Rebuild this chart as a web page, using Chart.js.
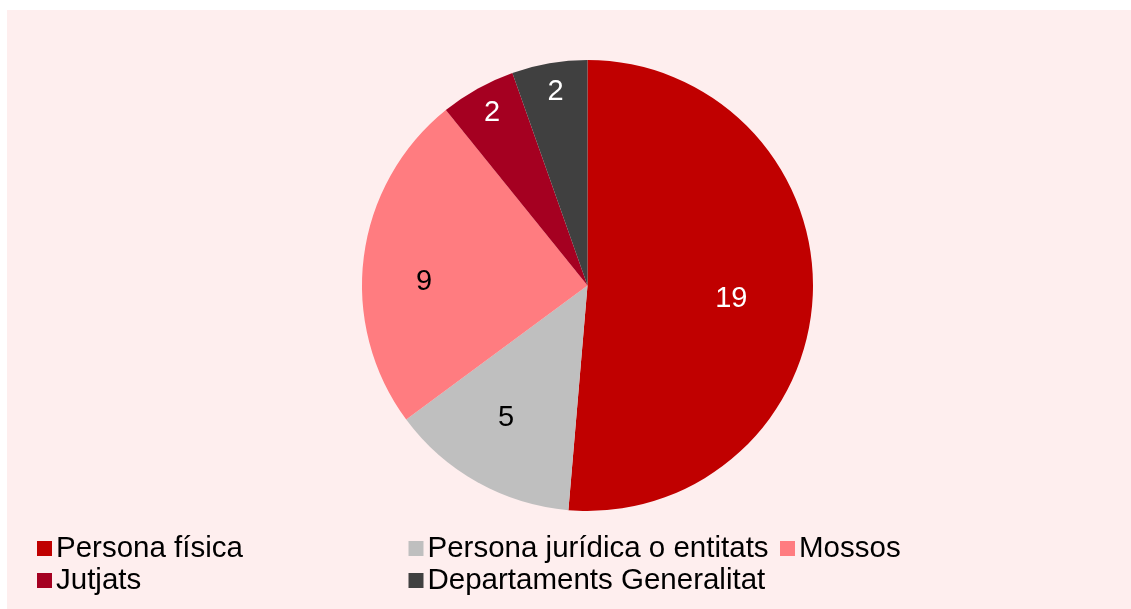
<!DOCTYPE html>
<html>
<head>
<meta charset="utf-8">
<script src="https://cdn.jsdelivr.net/npm/chart.js@4"></script>
<style>
  body { margin: 0; background: #ffffff; }
  #wrap { width: 1131px; height: 609px; }
</style>
</head>
<body>
<div id="wrap"><canvas id="myChart-pie" width="1131" height="609"></canvas></div>
<script>
/*               pie chart: origen de les queixes                           */

const categories = ['Persona física', 'Persona jurídica o entitats', 'Mossos', 'Jutjats', 'Departaments Generalitat'];
const values = [19, 5, 9, 2, 2];
const sliceColors = ['#C00000', '#BFBFBF', '#FF7C80', '#A50021', '#404040'];
const labelColors = ['#ffffff', '#000000', '#000000', '#ffffff', '#ffffff'];

const FONT = '"Liberation Sans", Arial, sans-serif';

// pink panel behind everything
const panelBg = {
    id: 'panelBg',
    beforeDraw(chart) {
        const c = chart.ctx;
        c.save();
        c.fillStyle = '#FEEEEE';
        c.fillRect(7, 10, chart.width - 7, chart.height - 10);
        c.restore();
    }
};

// value labels inside the slices
const sliceLabels = {
    id: 'sliceLabels',
    afterDatasetsDraw(chart, args, opts) {
        const c = chart.ctx;
        const meta = chart.getDatasetMeta(0);
        c.save();
        c.font = '29px ' + FONT;
        c.textAlign = 'center';
        c.textBaseline = 'middle';
        meta.data.forEach((arc, i) => {
            const p = arc.getProps(['x', 'y', 'startAngle', 'endAngle', 'outerRadius'], true);
            const a = (p.startAngle + p.endAngle) / 2 + opts.shift[i] * Math.PI / 180;
            const r = p.outerRadius * opts.dist[i];
            c.fillStyle = labelColors[i];
            c.fillText(String(values[i]), p.x + Math.cos(a) * r, p.y + Math.sin(a) * r + 1);
        });
        c.restore();
    }
};

// legend laid out in fixed columns like the original
const gridLegend = {
    id: 'gridLegend',
    afterDraw(chart, args, opts) {
        const c = chart.ctx;
        c.save();
        c.font = '29.5px ' + FONT;
        c.textAlign = 'left';
        c.textBaseline = 'alphabetic';
        categories.forEach((name, i) => {
            const col = i % opts.columns;
            const row = Math.floor(i / opts.columns);
            const x = opts.left + col * opts.colWidth;
            const base = opts.top + row * opts.rowHeight;
            c.fillStyle = sliceColors[i];
            c.fillRect(x, base - 16, 15, 15);
            c.fillStyle = '#000000';
            c.fillText(name, x + 19, base);
        });
        c.restore();
    }
};

let ctx0 = document.getElementById('myChart-pie').getContext('2d');
var chart = new Chart(ctx0, {
    type: 'pie',
    data: {
        labels: categories,
        datasets: [{
            data: values,
            backgroundColor: sliceColors,
            borderWidth: 0
        }]
    },
    options: {
        responsive: false,
        animation: false,
        layout: {
            padding: { left: 362, right: 318, top: 60, bottom: 98 }
        },
        plugins: {
            legend: { display: false },
            tooltip: { enabled: false },
            sliceLabels: {
                dist: [0.64, 0.686, 0.725, 0.879, 0.875],
                shift: [2.6, 2.6, -5.7, 0.4, 0.4]
            },
            gridLegend: {
                columns: 3,
                left: 37,
                colWidth: 371.5,
                top: 557,
                rowHeight: 32
            }
        }
    },
    plugins: [panelBg, sliceLabels, gridLegend]
});
</script>
</body>
</html>
